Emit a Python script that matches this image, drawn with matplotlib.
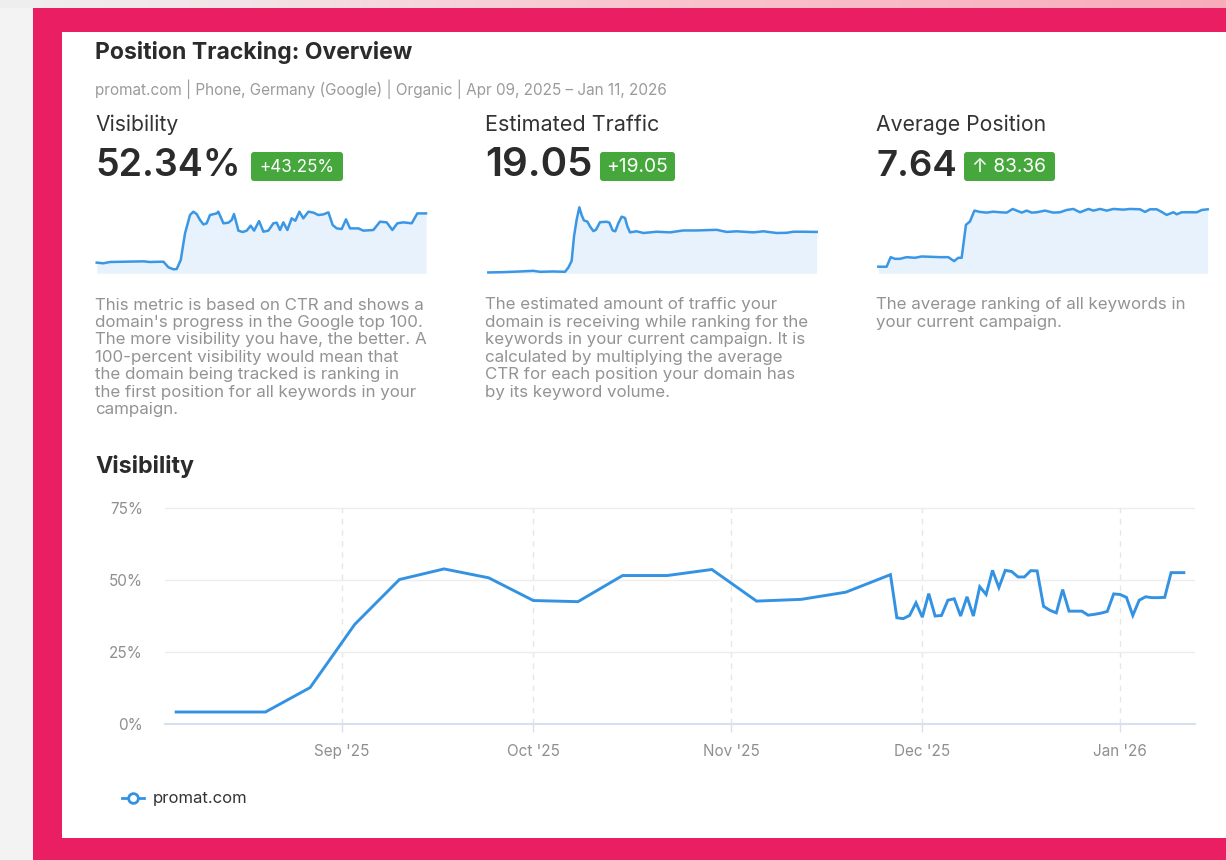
import matplotlib
matplotlib.use("Agg")
import matplotlib.pyplot as plt
import matplotlib.dates as mdates
from matplotlib.patches import Rectangle, FancyBboxPatch
from matplotlib.lines import Line2D
import matplotlib.colors as mcolors
import numpy as np
import pandas as pd

plt.rcParams['font.family'] = ['Inter', 'DejaVu Sans']

# ---------------- data ----------------
title = "Position Tracking: Overview"
subtitle = "promat.com | Phone, Germany (Google) | Organic | Apr 09, 2025 \u2013 Jan 11, 2026"
metric_names = ["Visibility", "Estimated Traffic", "Average Position"]
metric_values = ["52.34%", "19.05", "7.64"]
metric_changes = ["+43.25%", "+19.05", "\u2191 83.36"]
metric_desc = [
    ["This metric is based on CTR and shows a",
     "domain's progress in the Google top 100.",
     "The more visibility you have, the better. A",
     "100-percent visibility would mean that",
     "the domain being tracked is ranking in",
     "the first position for all keywords in your",
     "campaign."],
    ["The estimated amount of traffic your",
     "domain is receiving while ranking for the",
     "keywords in your current campaign. It is",
     "calculated by multiplying the average",
     "CTR for each position your domain has",
     "by its keyword volume."],
    ["The average ranking of all keywords in",
     "your current campaign."],
]

# sparklines (day offset since Apr 09, 2025 ; value)
vis_spark_day = [0.0, 5.6, 11.2, 25.2, 39.3, 44.9, 56.1, 60.3, 64.5, 67.3, 70.7, 74.3, 78.5, 81.3,
                 84.1, 86.9, 89.7, 92.5, 95.3, 100.9, 102.3, 106.6, 110.8, 113.6, 115.5, 119.2,
                 122.8, 126.2, 129.5, 132.4, 136.6, 140.2, 144.4, 148.6, 151.4, 154.2, 157.0,
                 160.4, 164.0, 167.1, 170.5, 173.8, 178.1, 182.3, 186.5, 190.7, 194.9, 198.5,
                 201.9, 206.1, 209.7, 213.1, 220.1, 224.3, 232.7, 238.3, 243.9, 248.7, 252.9,
                 258.0, 265.0, 269.7, 277.0]
vis_spark_val = [6.5, 5.9, 7.1, 7.4, 7.7, 7.1, 7.4, 2.2, 0.3, 0.6, 9.0, 33.7, 50.7, 53.8,
                 51.6, 46.1, 42.0, 43.0, 50.7, 52.2, 53.8, 43.0, 43.6, 46.1, 51.6, 36.2,
                 34.9, 36.2, 40.8, 36.2, 45.1, 35.2, 36.2, 43.0, 43.6, 36.8, 43.9,
                 36.8, 47.6, 45.4, 53.8, 47.6, 53.8, 52.9, 50.7, 51.3, 53.2, 41.4,
                 38.3, 37.7, 46.7, 38.3, 38.3, 36.2, 36.8, 44.5, 43.9, 36.8, 43.0,
                 43.9, 43.0, 52.2, 52.2]

traffic_spark_day = [0.0, 12.7, 26.7, 38.0, 43.6, 54.8, 64.7, 67.5, 70.3, 72.3, 74.5, 76.8, 78.7,
                     80.7, 83.5, 85.8, 88.6, 90.8, 94.2, 99.8, 102.1, 104.9, 107.1, 109.7, 112.5,
                     115.3, 117.3, 119.5, 125.1, 130.8, 142.0, 153.3, 164.5, 175.8, 192.6, 201.1,
                     209.5, 223.6, 232.0, 243.2, 251.7, 257.3, 265.7, 277.0]
traffic_spark_val = [0.0, 0.15, 0.46, 0.77, 0.31, 0.46, 0.31, 2.3, 5.4, 17.0, 24.8, 30.7, 27.1,
                     24.5, 24.0, 21.7, 19.5, 20.1, 23.7, 23.9, 23.5, 19.8, 19.4, 23.2, 26.3,
                     25.7, 21.7, 18.9, 19.4, 18.6, 19.2, 18.9, 19.8, 19.8, 20.1, 19.1,
                     19.4, 18.9, 19.4, 18.6, 18.7, 19.2, 19.2, 19.1]

position_spark_day = [0.0, 7.0, 10.4, 14.0, 18.2, 23.8, 30.8, 36.5, 51.9, 58.9, 63.7, 67.3, 70.1,
                      73.7, 77.1, 80.8, 85.5, 91.1, 96.7, 102.3, 108.0, 113.0, 116.4, 120.6,
                      124.8, 129.0, 133.2, 140.2, 147.2, 152.8, 158.4, 164.0, 169.6, 176.7,
                      180.9, 186.5, 192.1, 197.7, 206.1, 211.7, 220.1, 224.3, 228.5, 234.1,
                      238.3, 242.5, 248.2, 251.0, 255.2, 259.4, 267.8, 272.0, 277.0]
position_spark_val = [91.0, 91.0, 77.2, 79.6, 79.6, 77.2, 78.1, 76.2, 77.2, 77.2, 82.9, 78.1, 78.1,
                      30.5, 25.7, 10.0, 11.9, 12.9, 11.5, 12.4, 12.9, 7.6, 10.0, 12.9,
                      10.0, 12.9, 12.4, 10.0, 12.9, 12.4, 9.1, 7.6, 12.4, 7.6,
                      10.0, 7.6, 10.0, 7.6, 8.6, 7.6, 8.1, 11.9, 8.1, 8.1,
                      11.9, 16.2, 12.4, 15.3, 12.4, 12.4, 12.4, 9.1, 8.1]

# main visibility chart
weekly_dates = ["2025-08-06", "2025-08-13", "2025-08-20", "2025-08-27", "2025-09-03",
                "2025-09-10", "2025-09-17", "2025-09-24", "2025-10-01", "2025-10-08",
                "2025-10-15", "2025-10-22", "2025-10-29", "2025-11-05", "2025-11-12",
                "2025-11-19", "2025-11-26"]
weekly_vis = [4.0, 4.0, 4.0, 12.5, 34.5, 50.1, 53.8, 50.7, 42.8, 42.4,
              51.5, 51.5, 53.6, 42.6, 43.2, 45.7, 51.8]
daily_start, daily_end = "2025-11-27", "2026-01-11"
daily_vis = [36.8, 36.5, 37.6, 42.0,
             37.0, 45.2, 37.4, 37.6, 42.9, 43.4, 37.4, 44.1, 37.4, 47.6, 44.9, 53.3, 47.3,
             53.3, 52.9, 51.0, 51.0, 53.2, 53.1, 40.8, 39.4, 38.5, 46.6, 39.1, 39.1, 39.1,
             37.7, 38.0, 38.4, 39.0, 45.1,
             44.9, 43.9, 37.6, 42.9, 44.1, 43.8, 43.8, 43.9, 52.5, 52.5, 52.5]
y_ticks = [0, 25, 50, 75]
series_name = "promat.com"

# ---------------- style ----------------
W, H = 1226, 860
PINK = "#e91e63"
BLUE = "#3393e2"
SPARK = "#3a97e5"
FILL = "#e8f2fc"
GREEN = "#46a83c"
DARK = "#2b2b2b"
GRAY = "#939393"

fig = plt.figure(figsize=(W / 100, H / 100), dpi=100)
fig.patch.set_facecolor("#f3f3f3")
renderer = fig.canvas.get_renderer()

bg = fig.add_axes([0, 0, 1, 1])
bg.axis("off")

# top gradient strip
stops = [(0, "#efefef"), (250, "#f2e3e7"), (600, "#f8c7d1"), (1226, "#f8acbb")]
xs = np.arange(W)
cols = np.array([mcolors.to_rgb(c) for _, c in stops])
pos = np.array([p for p, _ in stops])
grad = np.stack([np.interp(xs, pos, cols[:, i]) for i in range(3)], axis=-1)[None, :, :]
bg.imshow(grad, extent=(0, W, 8, 0), aspect="auto", interpolation="bilinear")
bg.add_patch(Rectangle((33, 8), W - 33, H - 8, color=PINK, lw=0))
bg.add_patch(Rectangle((62, 32), W - 62, 838 - 32, color="white", lw=0))
bg.set_xlim(0, W)
bg.set_ylim(H, 0)


def fit(x, y, s, width, size0=12.0, ha="left", **kw):
    t = bg.text(x, y, s, fontsize=size0, va="center", ha=ha, **kw)
    bb = t.get_window_extent(renderer=renderer)
    t.set_fontsize(size0 * width / bb.width)
    return t


fit(95, 52, title, 316, color=DARK, weight="bold")
fit(95, 89, subtitle, 576, color="#9b9b9b")

col_x = [95, 485, 876]
name_w = [83, 174, 170]
val_w = [146, 108, 81]
badge_box = [(251, 343), (600, 675), (964, 1055)]
badge_txt_w = [75, 62, 74]
for i in range(3):
    fit(col_x[i], 125, metric_names[i], name_w[i], color="#333333")
    fit(col_x[i], 166, metric_values[i], val_w[i], color=DARK, weight="semibold")
    x0, x1 = badge_box[i]
    bg.add_patch(FancyBboxPatch((x0, 152), x1 - x0, 29,
                                boxstyle="round,pad=0,rounding_size=3",
                                color=GREEN, lw=0))
    fit((x0 + x1) / 2, 167, metric_changes[i], badge_txt_w[i], ha="center", color="white")

# descriptions
probe = bg.text(0, 0, metric_desc[0][0], fontsize=12)
dsize = 12 * 330 / probe.get_window_extent(renderer=renderer).width
probe.remove()
for i in range(3):
    for j, line in enumerate(metric_desc[i]):
        bg.text(col_x[i], 305 + j * 17.4, line, fontsize=dsize, color=GRAY,
                va="center", ha="left")

fit(95, 467, "Visibility", 98, color=DARK, weight="bold")


# sparklines
def spark(x0, x1, y0, y1, days, vals, ylim):
    a = fig.add_axes([x0 / W, 1 - y1 / H, (x1 - x0) / W, (y1 - y0) / H])
    a.fill_between(days, vals, ylim[0], color=FILL, lw=0)
    a.plot(days, vals, color=SPARK, lw=1.8, clip_on=False, solid_joinstyle="round")
    a.set_xlim(days[0], days[-1])
    a.set_ylim(*ylim)
    a.axis("off")
    return a


spark(96.7, 426, 205, 273.3, vis_spark_day, vis_spark_val, (-3.4, 60.0))
spark(488.3, 816.7, 205, 273.3, traffic_spark_day, traffic_spark_val, (-0.4, 31.8))
spark(878.3, 1207.7, 205, 273.3, position_spark_day, position_spark_val, (100.5, 1.9))

# main chart
dates = list(pd.to_datetime(weekly_dates)) + list(pd.date_range(daily_start, daily_end, freq="D"))
values = weekly_vis + daily_vis

top_px, bot_px = 506.0, 723.5
ax = fig.add_axes([165 / W, 1 - bot_px / H, 1030 / W, (bot_px - top_px) / H])
ax.set_facecolor("none")
ax.plot(dates, values, color=BLUE, lw=2.1, solid_joinstyle="miter", zorder=3)
ax.set_xlim(dates[0] - pd.Timedelta(days=1.75), dates[-1] + pd.Timedelta(days=1.75))
px_per_pct = (bot_px - 508) / 75
ax.set_ylim(0, 75 + (508 - top_px) / px_per_pct)
ax.set_yticks(y_ticks)
ax.set_yticklabels([f"{v}%" for v in y_ticks])
ax.xaxis.set_major_locator(mdates.MonthLocator())
ax.xaxis.set_major_formatter(mdates.DateFormatter("%b '%y"))
for s in ["top", "left", "right"]:
    ax.spines[s].set_visible(False)
ax.spines["bottom"].set_color("#d6e0f2")
ax.spines["bottom"].set_linewidth(1.5)
ax.tick_params(axis="y", length=0, pad=16, labelsize=11, labelcolor="#8f8f8f")
ax.tick_params(axis="x", length=6, width=1, color="#d6e0f2", pad=9, labelsize=11,
               labelcolor="#8f8f8f")
ax.yaxis.grid(True, color="#ededed", lw=1)
ax.xaxis.grid(True, color="#e6e6e6", lw=1, ls=(0, (4, 4)))
ax.set_axisbelow(True)

handle = Line2D([], [], color=BLUE, lw=2, marker="o", markersize=7,
                markerfacecolor="white", markeredgecolor=BLUE, markeredgewidth=2)
leg = ax.legend(handles=[handle], labels=[series_name], loc="center left",
                bbox_to_anchor=(122 / W, 1 - 799 / H), bbox_transform=fig.transFigure,
                frameon=False, fontsize=12, handlelength=1.3, handletextpad=0.55,
                borderpad=0, borderaxespad=0)
for t in leg.get_texts():
    t.set_color("#333333")

fig.savefig("out.png", dpi=100, facecolor=fig.get_facecolor())
